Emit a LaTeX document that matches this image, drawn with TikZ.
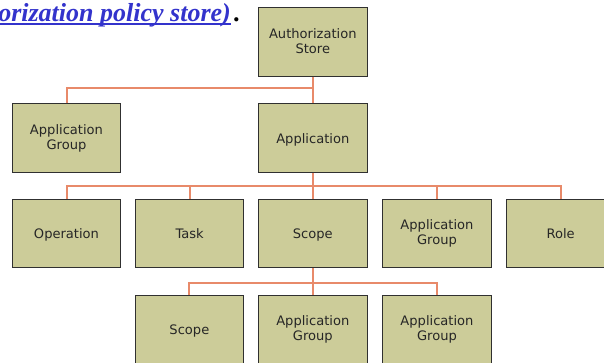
\documentclass[tikz,border=0pt]{standalone}
\usepackage{fontspec}
\newfontfamily\boxfont{DejaVu Sans}
\newfontfamily\headfont{Liberation Serif}
\definecolor{boxfill}{RGB}{204,204,153}
\definecolor{boxline}{RGB}{48,48,48}
\definecolor{linkcol}{RGB}{232,138,106}
\definecolor{headblue}{RGB}{51,51,204}

\begin{document}
\begin{tikzpicture}[x=0.75pt,y=-0.75pt,
  obj/.style={draw=boxline,fill=boxfill,line width=0.75pt,minimum width=81.5pt,
    minimum height=51.25pt,inner sep=0pt,align=center,text=black!85,
    font=\boxfont\fontsize{9.8}{11.2}\selectfont,
    execute at begin node=\rule{0pt}{10pt},
    execute at end node=\rule[-1.8pt]{0pt}{1.8pt}},
  link/.style={draw=linkcol,line width=1.5pt}]
\useasboundingbox (0,0) rectangle (604,362);
\clip (0,0) rectangle (604,362);

% cut-off link text at the top
\node[headblue,anchor=base west,inner sep=0pt,
  font=\headfont\bfseries\itshape\fontsize{19.5}{22}\selectfont] (ref) at (-2,21) {orization policy store)};
\node[anchor=base west,inner sep=0pt,
  font=\headfont\bfseries\itshape\fontsize{19.5}{22}\selectfont] (dot) at ([xshift=2pt]ref.base east) {.};
\draw[headblue,line width=1.5pt] ([yshift=-2.1pt]ref.base west) -- ([yshift=-2.1pt]ref.base east);

% top two levels
\node[obj] (store) at (312.8,42) {Authorization\\Store};
\node[obj] (grp1) at (66.5,138) {Application\\Group};
\node[obj] (app) at (312.8,138) {Application};

% children of the application
\foreach \n/\t/\x in {op/Operation/66.5, task/Task/189.6, scope/Scope/312.8,
    grp2/{Application\\Group}/437, role/Role/560.6} {
  \node[obj] (\n) at (\x,233.5) {\t};
}

% children of the scope
\node[obj] (subscope) at (189.4,329.5) {Scope};
\node[obj] (grp3) at (312.8,329.5) {Application\\Group};
\node[obj] (grp4) at (437,329.5) {Application\\Group};

% connectors
\coordinate (j1) at (312.8,88);
\coordinate (j2) at (312.8,186);
\coordinate (j3) at (312.8,283);
\draw[link] (store) -- (app);
\draw[link] (grp1.north) |- (j1);
\draw[link] (app) -- (scope);
\foreach \n in {op,task,grp2,role}
  \draw[link] (\n.north) |- (j2);
\draw[link] (scope) -- (grp3);
\foreach \n in {subscope,grp4}
  \draw[link] (\n.north) |- (j3);
\end{tikzpicture}
\end{document}
